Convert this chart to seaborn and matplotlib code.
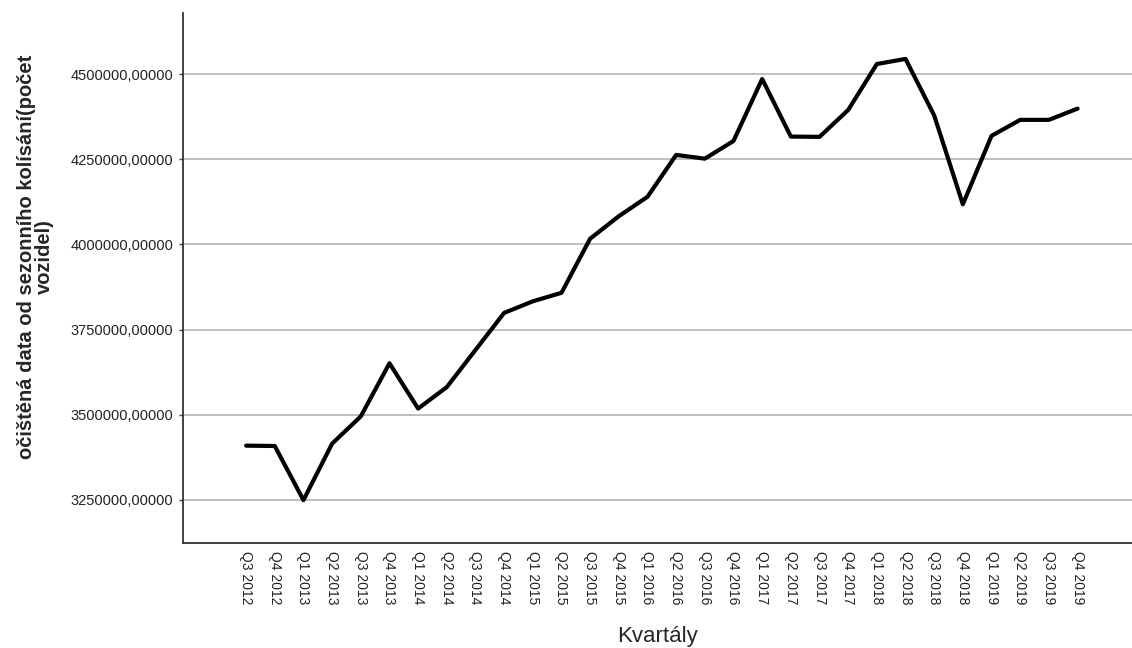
import matplotlib
matplotlib.use('Agg')
import matplotlib.pyplot as plt
import seaborn as sns
import pandas as pd

# %% Data
kvartaly = ['Q3 2012', 'Q4 2012',
            'Q1 2013', 'Q2 2013', 'Q3 2013', 'Q4 2013',
            'Q1 2014', 'Q2 2014', 'Q3 2014', 'Q4 2014',
            'Q1 2015', 'Q2 2015', 'Q3 2015', 'Q4 2015',
            'Q1 2016', 'Q2 2016', 'Q3 2016', 'Q4 2016',
            'Q1 2017', 'Q2 2017', 'Q3 2017', 'Q4 2017',
            'Q1 2018', 'Q2 2018', 'Q3 2018', 'Q4 2018',
            'Q1 2019', 'Q2 2019', 'Q3 2019', 'Q4 2019']
ocistena = [3409000, 3408000,
            3249000, 3415000, 3495000, 3651000,
            3518000, 3581000, 3690000, 3799000,
            3833000, 3858000, 4017000, 4083000,
            4140000, 4263000, 4252000, 4304000,
            4486000, 4317000, 4316000, 4395000,
            4530000, 4545000, 4379000, 4118000,
            4319000, 4366000, 4366000, 4399000]
ytick_values = [3250000, 3500000, 3750000, 4000000, 4250000, 4500000]
ytick_labels = ['3250000,00000', '3500000,00000', '3750000,00000',
                '4000000,00000', '4250000,00000', '4500000,00000']

df = pd.DataFrame({'Kvartal': kvartaly, 'Hodnota': ocistena})

# %% Plot
sns.set_style('white')
plt.rcParams['font.family'] = ['Liberation Sans', 'DejaVu Sans']

fig = plt.figure(figsize=(11.32, 6.48), dpi=100)
ax = fig.add_axes([0.1617, 0.162, 0.8383, 0.818])

ax.yaxis.grid(True, color='#b4b4b4', linewidth=1.2, zorder=0)
ax.set_axisbelow(True)

sns.lineplot(data=df, x='Kvartal', y='Hodnota', color='black', linewidth=3, sort=False, ax=ax)

ax.set_xlim(-2.2, 30.9)
ax.set_ylim(3123000, 4680000)
ax.set_yticks(ytick_values)
ax.set_yticklabels(ytick_labels, fontsize=10.5, color='#222222')
ax.set_xticks(range(len(kvartaly)))
ax.set_xticklabels(kvartaly, rotation=-90, fontsize=10, color='#222222')

ax.tick_params(axis='y', length=3, width=1, color='#444444', pad=4, left=True)
ax.tick_params(axis='x', length=0, pad=6)

for side in ['top', 'right']:
    ax.spines[side].set_visible(False)
for side in ['left', 'bottom']:
    ax.spines[side].set_color('#333333')
    ax.spines[side].set_linewidth(1.3)

ax.set_xlabel('Kvartály', fontsize=16, labelpad=15)
ax.set_ylabel('očištěná data od sezonního kolísání(počet\nvozidel)', fontsize=14.5, fontweight='bold',
              linespacing=0.95)
ax.yaxis.set_label_coords(-0.136, 0.54)

plt.savefig('out.png', dpi=100)
